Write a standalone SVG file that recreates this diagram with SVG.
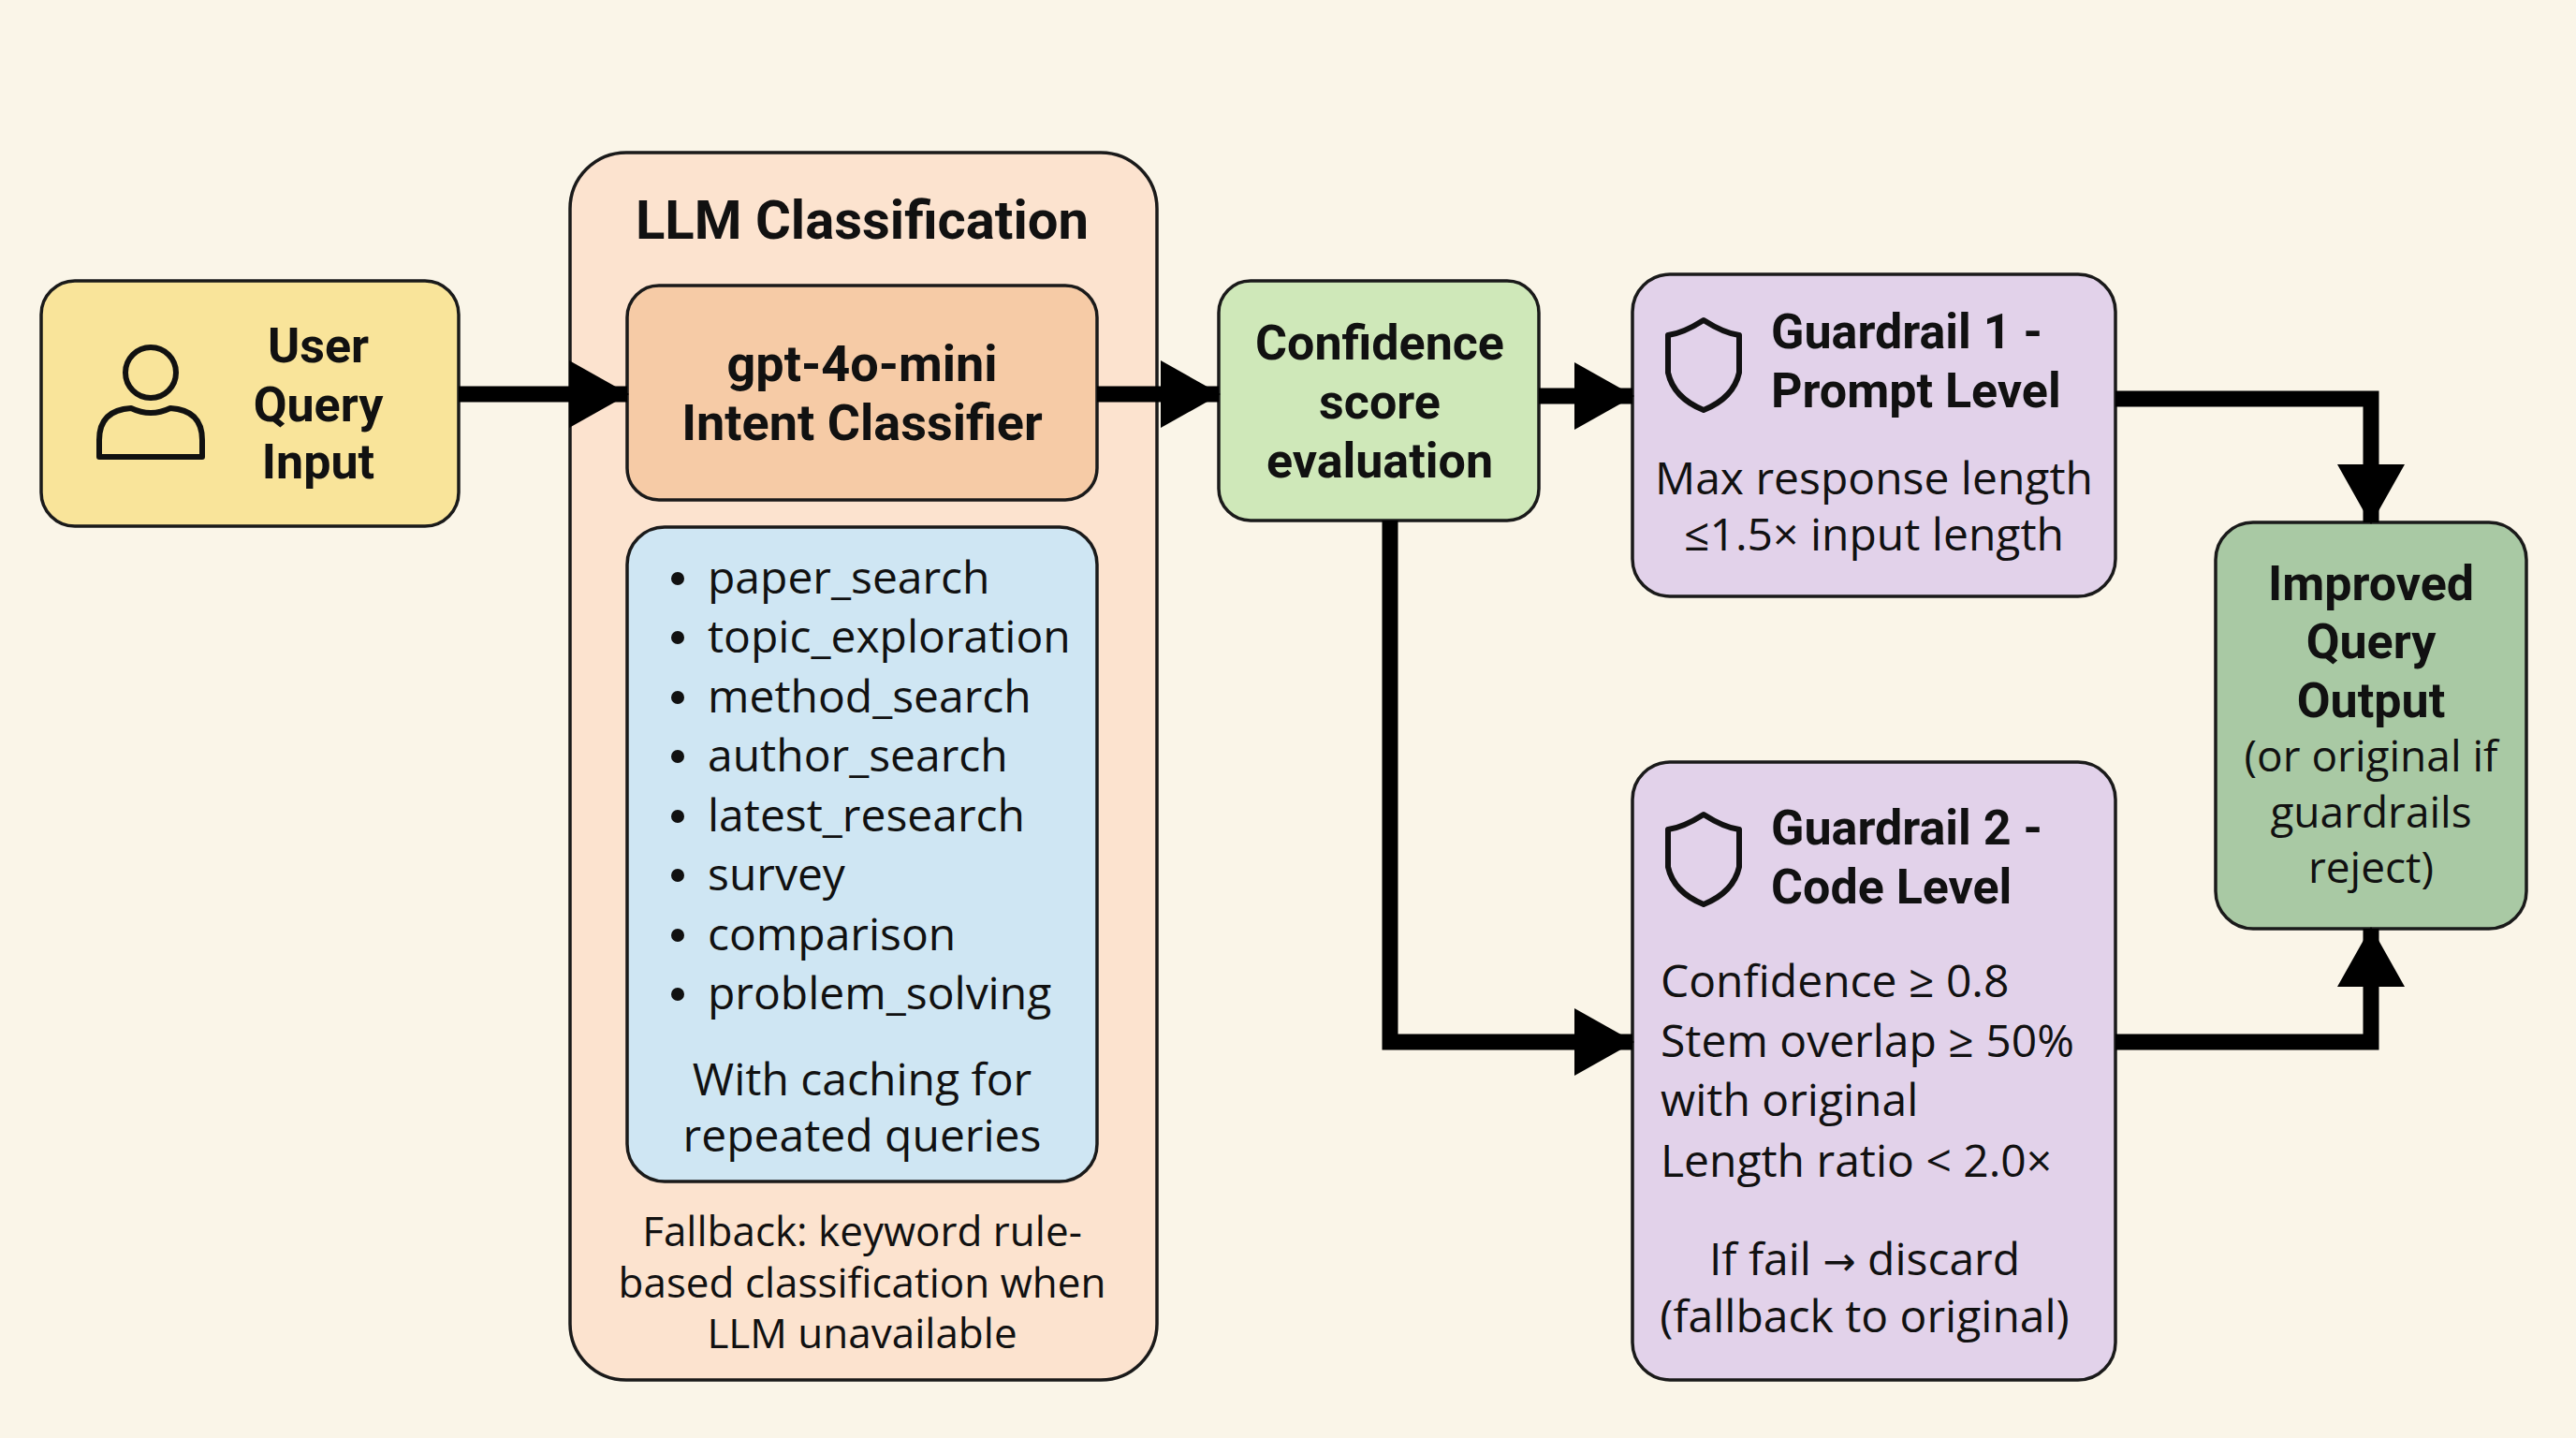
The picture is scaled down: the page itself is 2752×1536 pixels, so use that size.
<svg xmlns="http://www.w3.org/2000/svg" width="2752" height="1536" viewBox="0 0 2752 1536">
<defs>
<marker id="ah" markerUnits="userSpaceOnUse" markerWidth="64" markerHeight="72" refX="62" refY="36" orient="auto">
<path d="M0,0 L64,36 L0,72 Z" fill="#000"/>
</marker>
<style>
.box{stroke:#1a1a1a;stroke-width:3.5}
.h{font-family:Roboto,"Liberation Sans",sans-serif;font-weight:700;fill:#111;text-anchor:middle}
.hs{font-family:Roboto,"Liberation Sans",sans-serif;font-weight:700;fill:#111;text-anchor:start}
.b{font-family:"Open Sans","Liberation Sans",sans-serif;fill:#111}
.c{stroke:#000;stroke-width:17;fill:none;marker-end:url(#ah)}
.ic{fill:none;stroke:#111;stroke-width:6;stroke-linejoin:round}
.dot{fill:#111}
</style>
</defs>
<rect width="2752" height="1536" fill="#faf5e8"/>
<g id="user">
<rect class="box" x="44" y="300" width="446" height="262" rx="36" fill="#f9e49a"/>
<circle class="ic" cx="161" cy="398" r="27"/>
<path class="ic" d="M106,488 L106,470 Q106,438 140,436 Q161,446 182,436 Q216,438 216,470 L216,488 Z"/>
<text class="h" font-size="52" x="340" y="387">User</text>
<text class="h" font-size="52" x="340" y="450">Query</text>
<text class="h" font-size="52" x="340" y="511">Input</text>
</g>
<g id="llm">
<rect class="box" x="609" y="163" width="627" height="1311" rx="60" fill="#fce3cf"/>
<text class="h" font-size="58" x="921" y="255">LLM Classification</text>
<g id="gpt">
<rect class="box" x="670" y="305" width="502" height="229" rx="34" fill="#f6cba6"/>
<text class="h" font-size="54" x="921" y="407">gpt-4o-mini</text>
<text class="h" font-size="54" x="921" y="470">Intent Classifier</text>
</g>
<g id="intents">
<rect class="box" x="670" y="563" width="502" height="699" rx="40" fill="#cfe6f3"/>
<g class="dot">
<circle cx="724" cy="618" r="7"/><circle cx="724" cy="681" r="7"/><circle cx="724" cy="745" r="7"/><circle cx="724" cy="808" r="7"/>
<circle cx="724" cy="872" r="7"/><circle cx="724" cy="935" r="7"/><circle cx="724" cy="999" r="7"/><circle cx="724" cy="1062" r="7"/>
</g>
<g class="b" font-size="48">
<text x="756" y="634">paper_search</text>
<text x="756" y="697">topic_exploration</text>
<text x="756" y="761">method_search</text>
<text x="756" y="824">author_search</text>
<text x="756" y="888">latest_research</text>
<text x="756" y="951">survey</text>
<text x="756" y="1015">comparison</text>
<text x="756" y="1078">problem_solving</text>
<text x="921" y="1170" text-anchor="middle">With caching for</text>
<text x="921" y="1230" text-anchor="middle">repeated queries</text>
</g>
</g>
<g class="b" font-size="44" text-anchor="middle">
<text x="921" y="1331">Fallback: keyword rule-</text>
<text x="921" y="1386">based classification when</text>
<text x="921" y="1440">LLM unavailable</text>
</g>
</g>
<g id="confidence">
<rect class="box" x="1302" y="300" width="342" height="256" rx="34" fill="#cfe8b9"/>
<text class="h" font-size="52" x="1474" y="384">Confidence</text>
<text class="h" font-size="52" x="1474" y="447">score</text>
<text class="h" font-size="52" x="1474" y="510">evaluation</text>
</g>
<g id="guardrail1">
<rect class="box" x="1744" y="293" width="516" height="344" rx="40" fill="#e2d2ea"/>
<path class="ic" d="M1820,342 Q1842,356 1858,358 L1858,398 Q1852,425 1820,438 Q1788,425 1782,398 L1782,358 Q1798,356 1820,342 Z"/>
<text class="hs" font-size="52" x="1892" y="372">Guardrail 1 -</text>
<text class="hs" font-size="52" x="1892" y="435">Prompt Level</text>
<g class="b" font-size="48" text-anchor="middle">
<text x="2002" y="528">Max response length</text>
<text x="2002" y="588">≤1.5× input length</text>
</g>
</g>
<g id="guardrail2">
<rect class="box" x="1744" y="814" width="516" height="660" rx="40" fill="#e2d2ea"/>
<path class="ic" d="M1820,870 Q1842,884 1858,886 L1858,926 Q1852,953 1820,966 Q1788,953 1782,926 L1782,886 Q1798,884 1820,870 Z"/>
<text class="hs" font-size="52" x="1892" y="902">Guardrail 2 -</text>
<text class="hs" font-size="52" x="1892" y="965">Code Level</text>
<g class="b" font-size="48">
<text x="1774" y="1065">Confidence ≥ 0.8</text>
<text x="1774" y="1129">Stem overlap ≥ 50%</text>
<text x="1774" y="1192">with original</text>
<text x="1774" y="1257">Length ratio &lt; 2.0×</text>
<text x="1992" y="1362" text-anchor="middle">If fail <tspan font-family="DejaVu Sans" font-size="42">→</tspan> discard</text>
<text x="1992" y="1423" text-anchor="middle">(fallback to original)</text>
</g>
</g>
<g id="output">
<rect class="box" x="2367" y="558" width="332" height="434" rx="40" fill="#a9c9a4"/>
<text class="h" font-size="52" x="2533" y="641">Improved</text>
<text class="h" font-size="52" x="2533" y="703">Query</text>
<text class="h" font-size="52" x="2533" y="766">Output</text>
<g class="b" font-size="46" text-anchor="middle">
<text x="2533" y="824">(or original if</text>
<text x="2533" y="884">guardrails</text>
<text x="2533" y="943">reject)</text>
</g>
</g>
<g id="connectors">
<path class="c" d="M490,421 L670,421"/>
<path class="c" d="M1172,421 L1302,421"/>
<path class="c" d="M1644,423 L1744,423"/>
<path class="c" d="M1485,556 L1485,1113 L1744,1113"/>
<path class="c" d="M2260,426 L2533,426 L2533,558"/>
<path class="c" d="M2260,1113 L2533,1113 L2533,992"/>
</g>
</svg>
